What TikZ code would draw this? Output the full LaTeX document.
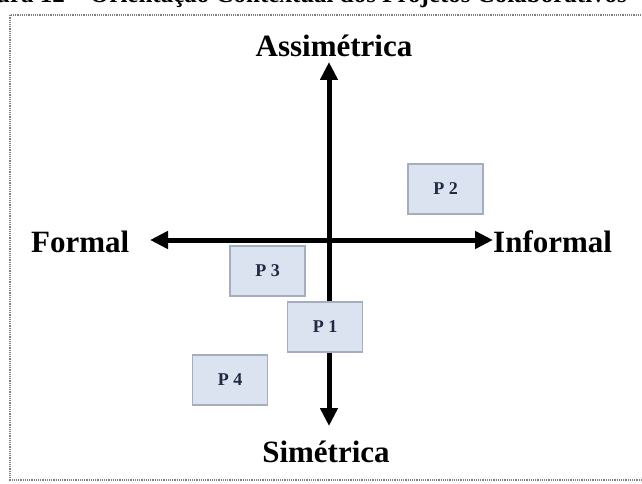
\documentclass[tikz,border=0pt]{standalone}
\usepackage{fontspec}
\setmainfont{Liberation Serif}
\usetikzlibrary{arrows.meta}
\definecolor{boxfill}{HTML}{DCE3F0}
\definecolor{boxdraw}{HTML}{A4AEBE}
\definecolor{boxtext}{HTML}{1F2A44}
\tikzset{
  axis/.style={line width=5pt, -{Triangle[length=18pt,width=17pt]}, black},
  axislabel/.style={font=\fontsize{31}{34}\selectfont\bfseries, inner sep=0pt},
  pbox/.style={draw=boxdraw, fill=boxfill, line width=1.2pt, minimum width=75pt, minimum height=50pt, inner sep=0pt, font=\fontsize{18}{20}\selectfont\bfseries, text=boxtext},
  frame/.style={draw=gray, densely dotted, line width=1.2pt}
}
\begin{document}
\begin{tikzpicture}[x=1pt,y=-1pt]
\useasboundingbox (0,0) rectangle (642,484);
\clip (0,0) rectangle (642,484);
\node[anchor=base west, inner sep=0pt, font=\fontsize{25}{27}\selectfont\bfseries] (cap) at (-4,3) {ura 12 -- Orientação Contextual dos Projetos Colaborativos};
\draw[frame] (650,15) -- (10,15) -- (10,480) -- (650,480);
\coordinate (c) at (329,240);
\coordinate (top) at (329,62);
\coordinate (bot) at (329,426);
\coordinate (left) at (150,240);
\coordinate (right) at (493,240);
\draw[axis] (c) -- (top);
\draw[axis] (c) -- (bot);
\draw[axis] (c) -- (left);
\draw[axis] (c) -- (right);
\node[axislabel, anchor=base] (asym) at (334,57) {Assimétrica};
\node[axislabel, anchor=base] (sym) at (326,462) {Simétrica};
\node[axislabel, anchor=base west] (formal) at (31,252) {Formal};
\node[axislabel, anchor=base west] (informal) at (493,252) {Informal};
\node[pbox] (p2) at (445.5,189) {P 2};
\node[pbox] (p3) at (267.5,271) {P 3};
\node[pbox] (p1) at (325,327) {P 1};
\node[pbox] (p4) at (230,380) {P 4};
\end{tikzpicture}
\end{document}
